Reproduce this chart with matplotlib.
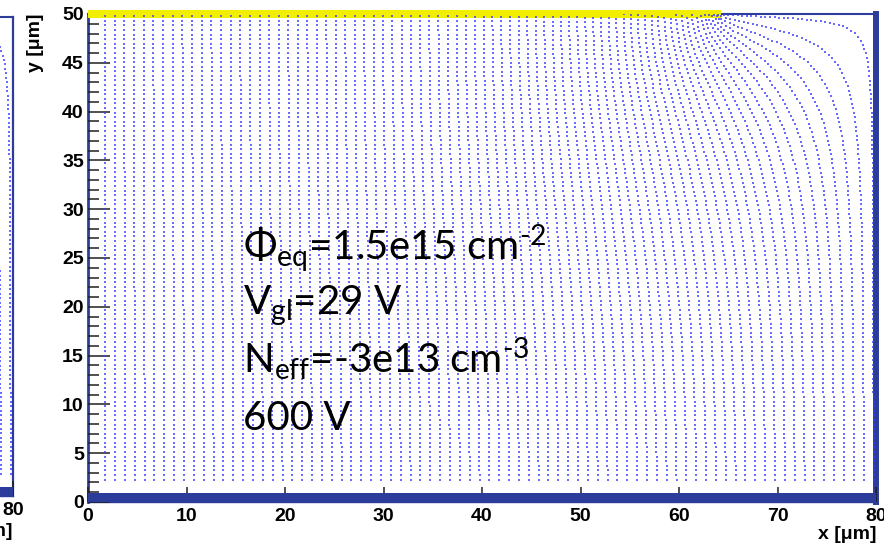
import matplotlib
matplotlib.use('Agg')
import matplotlib.pyplot as plt
from matplotlib.patches import Rectangle
from matplotlib.ticker import MultipleLocator
import numpy as np

# sensor cell geometry (um) and operating point
thickness = 50.0
cell_width = 80.0
electrode_end = 64.3      # readout implant covers x = 0 .. electrode_end on top
backside_depth = 0.92     # depth of the drawn backside layer
bias = 600.0              # V
neff = -3e13              # cm^-3

# where the drift lines are started (um)
start_y = 2.3
start_x = [1.75, 2.75, 3.75, 4.75, 5.75, 6.75, 7.75, 8.75, 9.75, 10.75,
           11.75, 12.75, 13.75, 14.75, 15.75, 16.75, 17.75, 18.75, 19.75, 20.75,
           21.75, 22.75, 23.75, 24.75, 25.75, 26.75, 27.75, 28.75, 29.75, 30.75,
           31.75, 32.75, 33.75, 34.75, 35.75, 36.75, 37.75, 38.75, 39.75, 40.75,
           41.75, 42.75, 43.75, 44.75, 45.75, 46.75, 47.75, 48.75, 49.75, 50.75,
           51.75, 52.75, 53.75, 54.75, 55.75, 56.75, 57.75, 58.75, 59.75, 60.75,
           61.75, 62.75, 63.75, 64.75, 65.75, 66.75, 67.75, 68.75, 69.75, 70.75,
           71.75, 72.75, 73.75, 74.75, 75.75, 76.75, 77.75, 78.75, 79.75]

param_text = [r'$\Phi_{\rm eq}$=1.5e15 cm$^{\text{-2}}$',
              r'V$_{\rm gl}$=29 V',
              r'N$_{\rm eff}$=-3e13 cm$^{\text{-3}}$',
              '600 V']
param_y = [24.8, 19.2, 13.2, 7.4]

frame_blue = '#2b3c9b'
dot_blue = '#3a3aff'
implant_yellow = '#f2ee00'

# ---- potential: red-black SOR on a 0.5 um grid ----
h = 0.5
xs = np.arange(0, cell_width + h / 2, h)
ys = np.arange(0, thickness + h / 2, h)
nx, ny = len(xs), len(ys)
X, Y = np.meshgrid(xs, ys)

# Poisson source term in V/um^2 (q*Neff/eps_Si)
lap = -1.602e-19 * neff / (11.9 * 8.854e-14) * 1e-8

V = bias * Y / thickness
fixed = (Y < h / 2) | ((Y > thickness - h / 2) & (X <= electrode_end))
V[Y < h / 2] = 0.0
V[(Y > thickness - h / 2) & (X <= electrode_end)] = bias
parity = np.add.outer(np.arange(ny), np.arange(nx)) % 2
omega = 1.94
for it in range(2500):
    for color in (0, 1):
        P = np.pad(V, 1, mode='reflect')
        nb = P[:-2, 1:-1] + P[2:, 1:-1] + P[1:-1, :-2] + P[1:-1, 2:]
        gs = (nb - h * h * lap) / 4.0
        upd = (parity == color) & ~fixed
        V = np.where(upd, V + omega * (gs - V), V)

# gradient with mirrored (Neumann) edges, one-sided into the implant
P = np.pad(V, 1, mode='reflect')
gx = (P[1:-1, 2:] - P[1:-1, :-2]) / (2 * h)
gy = (P[2:, 1:-1] - P[:-2, 1:-1]) / (2 * h)
on_implant = xs <= electrode_end
gy[-1, on_implant] = (V[-1, on_implant] - V[-2, on_implant]) / h


def sample(A, px, py):
    fx = np.clip(px / h, 0, nx - 1.0001)
    fy = np.clip(py / h, 0, ny - 1.0001)
    i = fx.astype(int)
    j = fy.astype(int)
    tx = fx - i
    ty = fy - j
    return (A[j, i] * (1 - tx) * (1 - ty) + A[j, i + 1] * tx * (1 - ty)
            + A[j + 1, i] * (1 - tx) * ty + A[j + 1, i + 1] * tx * ty)


def direction(px, py):
    ex = sample(gx, px, py)
    ey = sample(gy, px, py)
    n = np.hypot(ex, ey) + 1e-12
    return ex / n, ey / n


# ---- trace all drift lines together (RK2, fixed arc step) ----
px = np.array(start_x, dtype=float)
py = np.full_like(px, start_y)
active = np.ones(len(px), dtype=bool)
hist_x, hist_y, hist_a = [px.copy()], [py.copy()], [active.copy()]
ds = 0.05
for step in range(5000):
    if not active.any():
        break
    dx1, dy1 = direction(px, py)
    dx2, dy2 = direction(px + 0.5 * ds * dx1, py + 0.5 * ds * dy1)
    px = np.where(active, np.clip(px + ds * dx2, 0, cell_width), px)
    py = np.where(active, np.minimum(py + ds * dy2, thickness), py)
    active = active & ~((py >= thickness - 0.02) & (px <= electrode_end + 0.3))
    hist_x.append(px.copy())
    hist_y.append(py.copy())
    hist_a.append(active.copy())
hist_x = np.array(hist_x)
hist_y = np.array(hist_y)
hist_a = np.array(hist_a)

dots_x, dots_y, dots_x0 = [], [], []
spacing = 0.47
for k in range(len(start_x)):
    end = np.argmax(~hist_a[:, k]) if (~hist_a[:, k]).any() else len(hist_a) - 1
    lx = hist_x[:end + 1, k]
    ly = hist_y[:end + 1, k]
    s = np.concatenate([[0], np.cumsum(np.hypot(np.diff(lx), np.diff(ly)))])
    si = np.arange(0, s[-1], spacing)
    dots_x.append(np.interp(si, s, lx))
    dots_y.append(np.interp(si, s, ly))
    dots_x0.append(np.full(len(si), start_x[k]))
dots_x = np.concatenate(dots_x)
dots_y = np.concatenate(dots_y)
dots_x0 = np.concatenate(dots_x0)

# ---- figure ----
plt.rcParams['mathtext.fontset'] = 'custom'
plt.rcParams['mathtext.rm'] = 'Lato'
plt.rcParams['mathtext.it'] = 'Lato:italic'
plt.rcParams['mathtext.bf'] = 'Lato:bold'

fig = plt.figure(figsize=(8.84, 5.43), dpi=100)
W, H = 884.0, 543.0
tick_font = dict(family='Liberation Sans', weight='bold', size=14)


def style_axes(ax):
    ax.set_xlim(0, cell_width)
    ax.set_ylim(0, thickness)
    for side in ('left', 'top', 'bottom', 'right'):
        ax.spines[side].set_color(frame_blue)
    ax.spines['left'].set_linewidth(2.0)
    ax.spines['top'].set_linewidth(1.5)
    ax.spines['bottom'].set_linewidth(1.0)
    ax.xaxis.set_major_locator(MultipleLocator(10))
    ax.xaxis.set_minor_locator(MultipleLocator(2))
    ax.yaxis.set_major_locator(MultipleLocator(5))
    ax.yaxis.set_minor_locator(MultipleLocator(1))
    ax.tick_params(axis='x', which='major', direction='in', length=10.8,
                   width=1.1, color='#202020', pad=4)
    ax.tick_params(axis='x', which='minor', direction='in', length=6.5,
                   width=1.1, color='#202020')
    ax.tick_params(axis='y', which='major', direction='in', length=15.8,
                   width=1.1, color='#202020', pad=3)
    ax.tick_params(axis='y', which='minor', direction='in', length=7.9,
                   width=1.1, color='#202020')
    ax.add_patch(Rectangle((0, 0), cell_width, backside_depth, color=frame_blue,
                           lw=0, zorder=3))
    ax.set_axisbelow(False)


# neighbouring panel, only its right edge is in view
ax0 = fig.add_axes([(13 - 788) / W, (H - 496) / H, 788 / W, 479 / H])
style_axes(ax0)
ax0.spines['right'].set_linewidth(1.6)
ax0.set_xticks([80])
ax0.set_xticklabels(['80'], fontdict=tick_font)
ax0.tick_params(axis='y', labelleft=False)
sel = dots_x0 >= 76
ax0.plot(dots_x[sel], dots_y[sel], ls='none', marker='s', ms=1.6, mew=0,
         color=dot_blue, alpha=0.75, zorder=2.7)

# main panel
ax = fig.add_axes([88 / W, (H - 502) / H, 788 / W, 488 / H])
style_axes(ax)
ax.spines['right'].set_linewidth(4.3)
for lab in ax.get_xticklabels() + ax.get_yticklabels():
    lab.set_fontproperties(tick_font)
ax.add_patch(Rectangle((0, 49.6), electrode_end, 0.8, color=implant_yellow,
                       lw=0, zorder=2.6, clip_on=False))
ax.plot(dots_x, dots_y, ls='none', marker='s', ms=1.6, mew=0,
        color=dot_blue, alpha=0.75, zorder=2.7)

for txt, yy in zip(param_text, param_y):
    ax.text(15.7, yy, txt, fontfamily='Lato', fontsize=29, va='baseline',
            ha='left', color='black', zorder=5)

fig.text(35 / W, 1 - 13 / H, 'y [μm]', rotation=90, ha='center', va='top',
         fontfamily='Liberation Sans', fontweight='bold', fontsize=14)
fig.text(876 / W, 1 - 526 / H, 'x [μm]', ha='right', va='top',
         fontfamily='Liberation Sans', fontweight='bold', fontsize=14)
fig.text(13 / W, 1 - 523 / H, 'x [μm]', ha='right', va='top',
         fontfamily='Liberation Sans', fontweight='bold', fontsize=14)

fig.savefig('out.png', dpi=100)
